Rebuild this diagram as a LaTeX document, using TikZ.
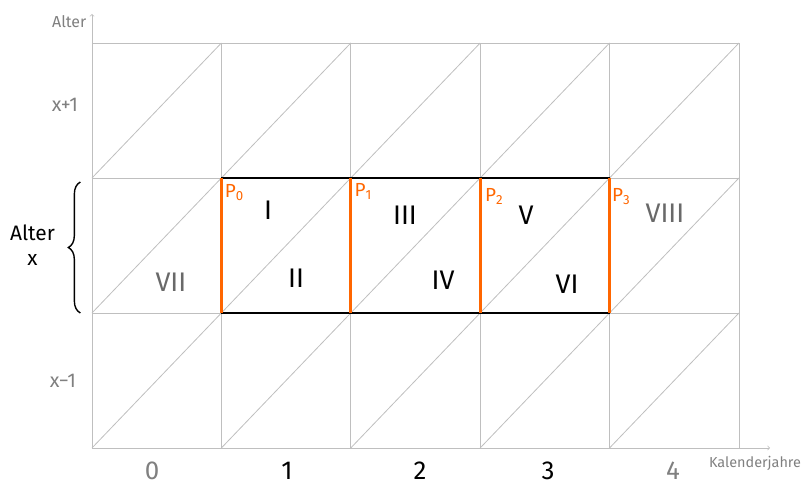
\documentclass[tikz,border=0pt]{standalone}
\usepackage{fontspec}
\setmainfont{Fira Sans}
\usepackage{tikz}
\usetikzlibrary{arrows, decorations.pathreplacing}
\usetikzlibrary{positioning}

\definecolor{gridgrey}{RGB}{191,191,191}
\definecolor{labelgrey}{RGB}{128,128,128}
\definecolor{darkgrey}{RGB}{105,105,105}
\definecolor{lexisorange}{RGB}{255,102,0}

\begin{document}
\begin{tikzpicture}[x=129.4bp, y=135bp,
    gridline/.style={gridgrey, line width=0.8bp},
    cohort/.style={black, line width=2.8bp},
    cut/.style={lexisorange, line width=2.8bp},
    field/.style={font=\fontsize{27}{30}\selectfont},
    side/.style={labelgrey, font=\fontsize{20}{22}\selectfont}]
      \useasboundingbox (-0.711,-0.2815) rectangle (5.495,3.3185);
      \begin{scope}
        \coordinate (origin) at (0,0);

        % Lexis grid with diagonals
        \foreach \i in {1,...,5}
          \draw[gridline] (\i,0) -- (\i,3);
        \foreach \j in {1,2,3}
          \draw[gridline] (0,\j) -- (5,\j);
        \foreach \i in {0,...,4}
          \foreach \j in {0,1,2}
            \draw[gridline] (\i,\j) -- (\i+1,\j+1);

        \draw[->,gridline] (origin) -- (0,3.215) node
        (alterax) [left, labelgrey, font=\fontsize{16}{18}\selectfont, xshift=-2bp, yshift=-8bp] {Alter};
        \draw[->,gridline] (origin) -- (5.24,0);
        \node (kalax) [labelgrey, font=\fontsize{14.5}{16}\selectfont] at (5.124,-0.111) {Kalenderjahre};

        \draw[cohort] (1,2) -- (4,2);
        \draw[cohort] (1,1) -- (4,1);
        \foreach \i in {1,...,4}
          \draw[cut] (\i,1) -- (\i,2);

        \node (p0) [lexisorange, font=\fontsize{19}{21}\selectfont] at (1.1,1.89) {P\textsubscript{0}};
        \node (p1) [lexisorange, font=\fontsize{19}{21}\selectfont] at (2.097,1.9) {P\textsubscript{1}};
        \node (p2) [lexisorange, font=\fontsize{19}{21}\selectfont] at (3.109,1.86) {P\textsubscript{2}};
        \node (p3) [lexisorange, font=\fontsize{19}{21}\selectfont] at (4.09,1.86) {P\textsubscript{3}};

        \node (fI) [field] at (1.36,1.763) {I};
        \node (fII) [field] at (1.577,1.259) {II};
        \node (fIII) [field] at (2.419,1.726) {III};
        \node (fIV) [field] at (2.713,1.244) {IV};
        \node (fV) [field] at (3.354,1.726) {V};
        \node (fVI) [field] at (3.671,1.215) {VI};
        \node (fVII) [field, darkgrey] at (0.61,1.23) {VII};
        \node (fVIII) [field, darkgrey] at (4.428,1.741) {VIII};

        \node (xplus) [side] at (-0.209,2.541) {x+1};
        \node (xminus) [side] at (-0.224,0.496) {x\textminus 1};
        \node (alterx) [align=center, font=\fontsize{21}{25}\selectfont] at (-0.46,1.5) {Alter\\x};
        \draw[decorate, decoration={brace, amplitude=12bp}, line width=1.4bp]
          (-0.09,1.0) -- (-0.09,1.97);

        \foreach \x/\t/\c in {0.464/0/labelgrey, 1.507/1/black, 2.535/2/black, 3.524/3/black, 4.49/4/labelgrey}
          \node (year\t) [\c, font=\fontsize{26}{28}\selectfont, inner sep=1bp] at (\x,-0.172) {\t};
      \end{scope}
    \end{tikzpicture}
\end{document}
